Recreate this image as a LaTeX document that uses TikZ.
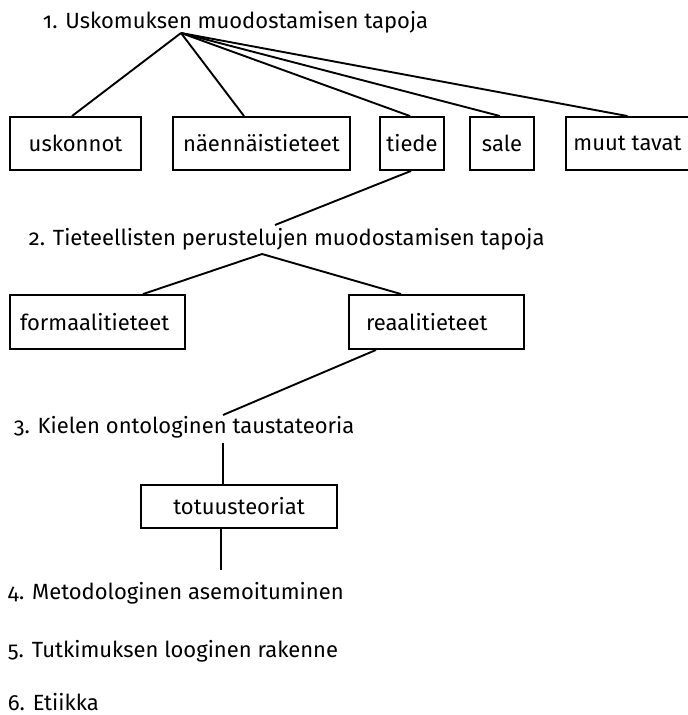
\documentclass[tikz,border=0pt]{standalone}
\usepackage{fontspec}
\setmainfont{Fira Sans}[Numbers={OldStyle,Proportional}]
\begin{document}
\begin{tikzpicture}[x=1pt, y=-1pt, line width=1.9pt,
  txt/.style={font=\fontsize{22}{26}\selectfont},
  box/.style={txt, draw, line width=1.9pt, inner sep=0pt, minimum height=53pt},
  leftbox/.style={box, align=left, text width=#1},
  head/.style={txt, inner sep=0pt, anchor=base west},
  link/.style={line width=1.9pt}]
\useasboundingbox (0,0) rectangle (688,715);

% level 1
\node[head] (h1) at (42,28) {1. Uskomuksen muodostamisen tapoja};
\coordinate (a1) at (181,33);
\node[box, minimum width=131pt] (b1) at (75.5,143.5) {uskonnot};
\node[box, minimum width=177pt] (b2) at (261.5,143.5) {näennäistieteet};
\node[box, minimum width=64pt]  (b3) at (412,143.5) {tiede};
\node[box, minimum width=64pt]  (b4) at (502,143.5) {sale};
\node[box, minimum width=123pt] (b5) at (627.5,143.5) {muut tavat};
\draw[link] (a1) -- ([xshift=-3.5pt]b1.north);
\draw[link] (a1) -- ([xshift=-17.5pt]b2.north);
\draw[link] (a1) -- ([xshift=-2pt]b3.north);
\draw[link] (a1) -- ([xshift=-2pt]b4.north);
\draw[link] (a1) -- (b5.north);

% level 2
\coordinate (c2) at (275,225);
\draw[link] ([xshift=-1pt]b3.south) -- (c2);
\node[head] (h2) at (28,245) {2. Tieteellisten perustelujen muodostamisen tapoja};
\coordinate (a2) at (262,254);
\node[leftbox=155pt, inner xsep=10pt, minimum height=54pt] (f) at (97.5,322) {formaalitieteet};
\node[leftbox=141pt, inner xsep=17pt, minimum height=54pt] (r) at (436.5,322) {reaalitieteet};
\draw[link] (a2) -- ([xshift=45.5pt]f.north);
\draw[link] (a2) -- ([xshift=-35.5pt]r.north);

% level 3
\coordinate (c3) at (223,415);
\draw[link] ([xshift=-60.5pt]r.south) -- (c3);
\node[head] (h3) at (13,433) {3. Kielen ontologinen taustateoria};
\coordinate (c3b) at (223,443);
\node[box, minimum width=196pt, minimum height=43pt] (t) at (239,506.5) {totuusteoriat};
\draw[link] (c3b) -- ([xshift=-16pt]t.north);
\coordinate (c4) at (221,570);
\draw[link] ([xshift=-18pt]t.south) -- (c4);

% levels 4-6
\node[head] (h4) at (7,599) {4. Metodologinen asemoituminen};
\node[head] (h5) at (7,657) {5. Tutkimuksen looginen rakenne};
\node[head] (h6) at (7,710) {6. Etiikka};
\end{tikzpicture}
\end{document}
